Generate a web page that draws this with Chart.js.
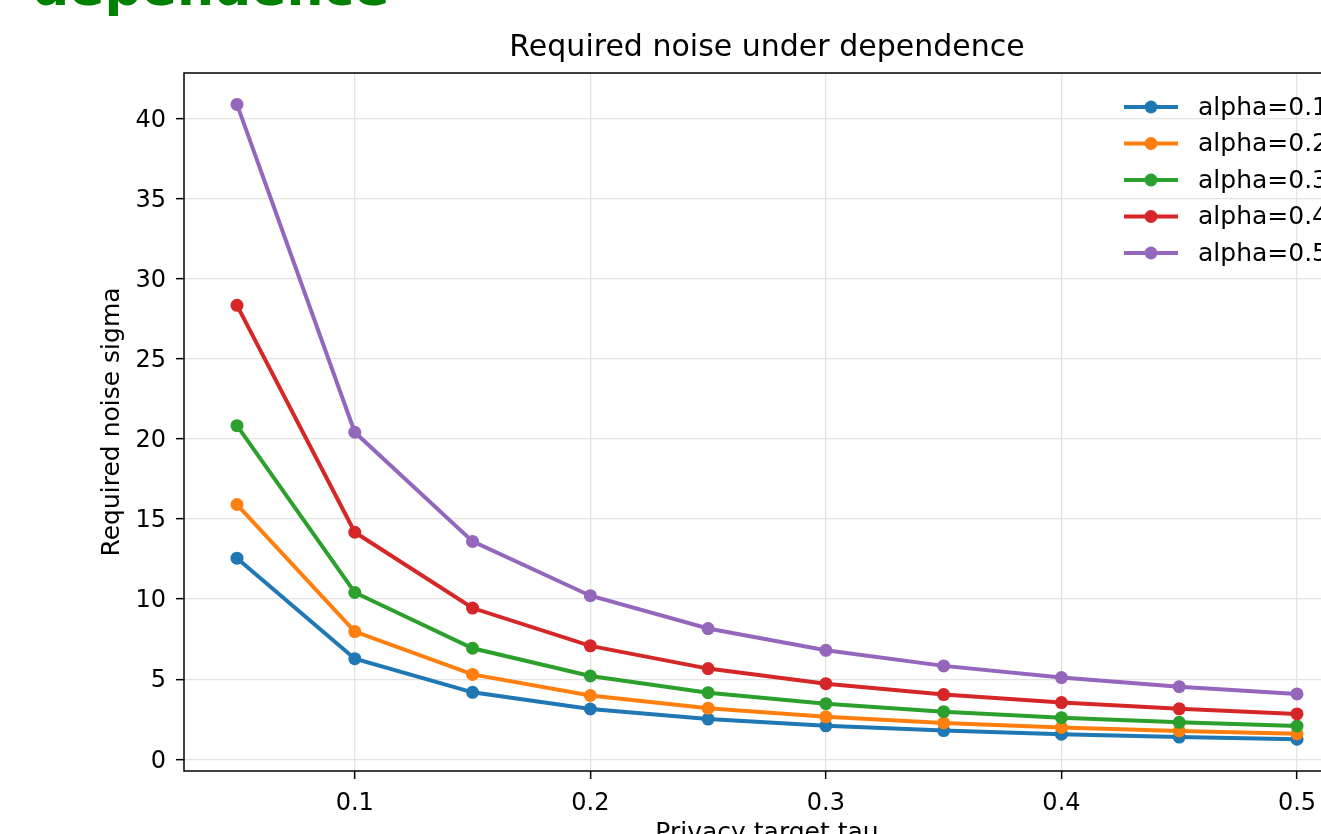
<!DOCTYPE html>
<html>
<head>
<meta charset="utf-8">
<script src="https://cdn.jsdelivr.net/npm/chart.js@4.4.1/dist/chart.umd.min.js"></script>
<style>
  html, body { margin: 0; padding: 0; width: 1321px; height: 834px; overflow: hidden; background: #fff; }
  #wrap { position: relative; width: 1400px; height: 880px; }
  #c { position: absolute; left: 0; top: 0; }
  #heading { position: absolute; left: 32px; top: -39px; font-family: "DejaVu Sans", sans-serif; font-weight: bold;
             font-size: 52px; line-height: 52px; color: #008000; white-space: nowrap; }
</style>
</head>
<body>
<div id="wrap">
  <div id="heading">dependence</div>
  <canvas id="c" width="1400" height="880"></canvas>
</div>
<script>
// ---- data ----
const tau = [0.05, 0.10, 0.15, 0.20, 0.25, 0.30, 0.35, 0.40, 0.45, 0.50];
const seriesLabels = ["alpha=0.1", "alpha=0.2", "alpha=0.3", "alpha=0.4", "alpha=0.5"];
const sigmaAlpha01 = [12.55, 6.28, 4.18, 3.14, 2.51, 2.09, 1.79, 1.57, 1.39, 1.25];
const sigmaAlpha02 = [15.90, 7.97, 5.30, 3.98, 3.19, 2.65, 2.27, 1.99, 1.77, 1.59];
const sigmaAlpha03 = [20.82, 10.41, 6.93, 5.20, 4.16, 3.47, 2.97, 2.60, 2.31, 2.08];
const sigmaAlpha04 = [28.33, 14.17, 9.44, 7.08, 5.66, 4.72, 4.04, 3.54, 3.15, 2.83];
const sigmaAlpha05 = [40.87, 20.41, 13.60, 10.21, 8.16, 6.80, 5.83, 5.10, 4.53, 4.08];
const xTickValues = [0.1, 0.2, 0.3, 0.4, 0.5];
const yTickValues = [0, 5, 10, 15, 20, 25, 30, 35, 40];

const seriesValues = [sigmaAlpha01, sigmaAlpha02, sigmaAlpha03, sigmaAlpha04, sigmaAlpha05];
const colors = ["#1f77b4", "#ff7f0e", "#2ca02c", "#d62728", "#9467bd"];

const FONT = "'DejaVu Sans', sans-serif";

const datasets = seriesValues.map((vals, i) => ({
  label: seriesLabels[i],
  data: vals.map((v, j) => ({ x: tau[j], y: v })),
  borderColor: colors[i],
  backgroundColor: colors[i],
  pointBackgroundColor: colors[i],
  pointBorderColor: colors[i],
  borderWidth: 4,
  pointRadius: 6.5,
  pointBorderWidth: 0,
  pointHoverRadius: 6.5,
  tension: 0,
  fill: false,
  order: seriesValues.length - i
}));

const framePlugin = {
  id: 'frame',
  afterDatasetsDraw(chart) {
    const { ctx, chartArea: a } = chart;
    ctx.save();
    ctx.strokeStyle = '#000';
    ctx.lineWidth = 1.5;
    ctx.strokeRect(a.left, a.top, a.right - a.left, a.bottom - a.top);
    ctx.restore();
  }
};

const legendPlugin = {
  id: 'mplLegend',
  afterDraw(chart) {
    const { ctx, chartArea: a } = chart;
    const x0 = a.right - 226;
    const y0 = a.top + 34;
    const gap = 36.5;
    ctx.save();
    chart.data.datasets.forEach((ds, i) => {
      const y = y0 + i * gap;
      ctx.strokeStyle = ds.borderColor;
      ctx.lineWidth = 4;
      ctx.beginPath();
      ctx.moveTo(x0, y);
      ctx.lineTo(x0 + 54, y);
      ctx.stroke();
      ctx.fillStyle = ds.borderColor;
      ctx.beginPath();
      ctx.arc(x0 + 27, y, 6.5, 0, Math.PI * 2);
      ctx.fill();
      ctx.fillStyle = '#000';
      ctx.font = "25px " + FONT;
      ctx.textBaseline = 'middle';
      ctx.textAlign = 'left';
      ctx.fillText(ds.label, x0 + 74, y + 1);
    });
    ctx.restore();
  }
};

new Chart(document.getElementById('c'), {
  type: 'line',
  data: { datasets },
  plugins: [framePlugin, legendPlugin],
  options: {
    responsive: false,
    animation: false,
    events: [],
    layout: { padding: { left: 0, top: 0, right: 50, bottom: 0 } },
    plugins: {
      legend: { display: false },
      tooltip: { enabled: false },
      title: {
        display: true,
        fullSize: false,
        text: "Required noise under dependence",
        color: '#000',
        font: { family: FONT, size: 30, weight: 'normal', lineHeight: 1.2 },
        padding: { top: 30, bottom: 7 }
      }
    },
    scales: {
      x: {
        type: 'linear',
        min: 0.0275,
        max: 0.5225,
        afterBuildTicks(scale) { scale.ticks = xTickValues.map(v => ({ value: v })); },
        afterFit(scale) { scale.height = 109; },
        ticks: {
          color: '#000',
          font: { family: FONT, size: 24 },
          padding: 10,
          maxRotation: 0,
          autoSkip: false,
          callback: (v) => v.toFixed(1)
        },
        grid: { color: '#e3e3e3', lineWidth: 1.3, tickColor: '#000', tickLength: 8, tickWidth: 1.5 },
        border: { display: false },
        title: {
          display: true,
          text: "Privacy target tau",
          color: '#000',
          font: { family: FONT, size: 25, lineHeight: 1.2 },
          padding: { top: 0, bottom: 32 }
        }
      },
      y: {
        type: 'linear',
        min: -0.73,
        max: 42.83,
        afterBuildTicks(scale) { scale.ticks = yTickValues.map(v => ({ value: v })); },
        afterFit(scale) { scale.width = 184; },
        ticks: {
          color: '#000',
          font: { family: FONT, size: 24 },
          padding: 10,
          labelOffset: 2,
          autoSkip: false,
          callback: (v) => String(v)
        },
        grid: { color: '#e3e3e3', lineWidth: 1.3, tickColor: '#000', tickLength: 8, tickWidth: 1.5 },
        border: { display: false },
        title: {
          display: true,
          text: "Required noise sigma",
          color: '#000',
          font: { family: FONT, size: 25, lineHeight: 1.2 },
          padding: { top: 97, bottom: 0 }
        }
      }
    }
  }
});
</script>
</body>
</html>
